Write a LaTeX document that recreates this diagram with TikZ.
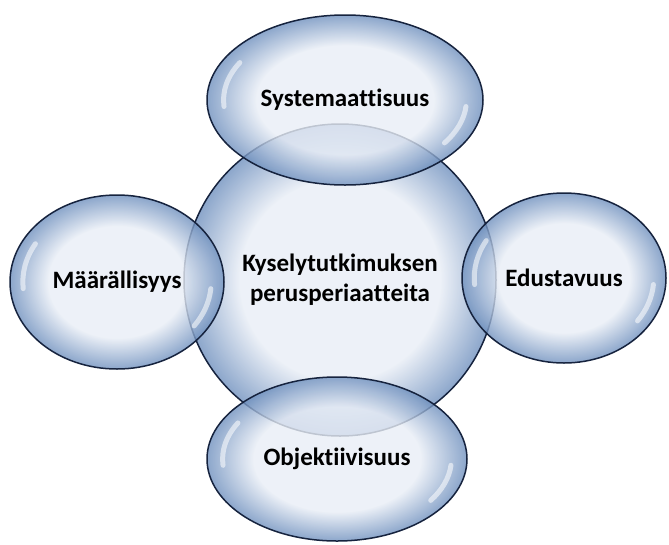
\documentclass[tikz,border=0pt]{standalone}
\usepackage{fontspec}
\setmainfont{Carlito}[Ligatures=NoCommon]
\usepackage{tikz}
\usetikzlibrary{shapes.geometric}
\definecolor{bubin}{HTML}{E9EEF6}
\definecolor{bubout}{HTML}{6F90BE}
\definecolor{rim}{HTML}{16233E}
\pgfdeclareradialshading{bubble}{\pgfpoint{0bp}{0bp}}{color(0bp)=(bubin); color(16bp)=(bubin); color(25bp)=(bubout); color(50bp)=(bubout)}
\tikzset{
  every picture/.style={line join=round, line cap=round},
  bubble/.style={ellipse, draw=rim, line width=1.5pt, shading=bubble, fill opacity=0.8, draw opacity=1, text opacity=1, inner sep=0pt, font=\fontsize{25}{30}\selectfont\bfseries, align=center},
  glint/.style={white, line width=5pt, opacity=0.55},
}

\begin{document}
\begin{tikzpicture}[x=1pt,y=-1pt]
\useasboundingbox (0,0) rectangle (669,544);
\node[bubble, circle, minimum size=312pt] (core) at (340,280) {Kyselytutkimuksen\\perusperiaatteita};
\node[bubble, minimum width=276pt, minimum height=170pt] (syst) at (345,100) {Systemaattisuus};
\node[bubble, minimum width=214pt, minimum height=174pt] (maar) at (117,282) {Määrällisyys};
\node[bubble, minimum width=204pt, minimum height=170pt] (edus) at (564,278) {Edustavuus};
\node[bubble, minimum width=260pt, minimum height=164pt] (obje) at (337,459) {Objektiivisuus};
\foreach \n/\rx/\ry in {syst/138/85,maar/107/87,edus/102/85,obje/130/82}{
  \draw[glint] (\n.center) ++(175:{0.88*\rx} and {0.88*\ry}) arc[start angle=175, end angle=210, x radius=0.88*\rx, y radius=0.88*\ry];
  \draw[glint] (\n.center) ++(5:{0.88*\rx} and {0.88*\ry}) arc[start angle=5, end angle=35, x radius=0.88*\rx, y radius=0.88*\ry];
}
\end{tikzpicture}
\end{document}
